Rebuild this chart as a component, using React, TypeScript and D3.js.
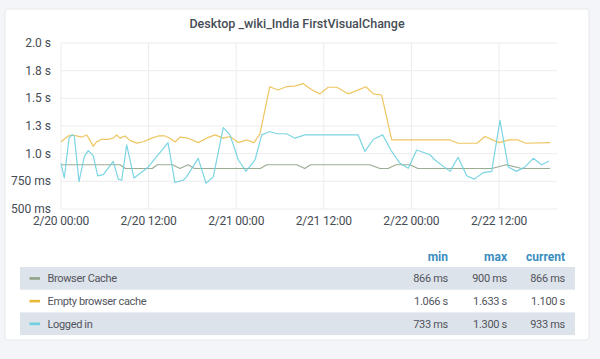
import * as d3 from 'd3';

// hours since 2/20 00:00 and value in seconds
const browserCacheHours = [0, 8.1, 8.8, 12.5, 13.2, 15.3, 16.3, 17.4, 18.3, 27.3, 28.2, 32.3, 33.4, 34.2, 42.3, 43.7, 44.8, 45.9, 47.8, 48.9, 59.0, 61.0, 63.1, 67.0];
const browserCacheValues = [0.9, 0.9, 0.866, 0.866, 0.9, 0.9, 0.866, 0.9, 0.866, 0.866, 0.9, 0.9, 0.866, 0.9, 0.9, 0.866, 0.866, 0.9, 0.9, 0.866, 0.866, 0.9, 0.866, 0.866];

const emptyCacheHours = [0, 1.0, 1.68, 2.15, 2.84, 3.52, 3.97, 4.42, 4.89, 5.58, 6.48, 7.16, 7.63, 8.08, 8.77, 9.45, 10.37, 11.27, 12.42, 13.33, 14.25, 14.93, 15.62, 16.3, 17.44, 18.8, 19.95, 21.1, 22.23, 23.15, 24.3, 25.44, 26.44, 27.26, 28.6, 29.73, 30.88, 32.0, 33.15, 34.3, 35.48, 36.6, 37.77, 38.45, 39.36, 40.5, 41.78, 42.78, 43.93, 45.3, 49.0, 53.3, 54.4, 56.99, 58.08, 60.0, 61.37, 62.6, 63.7, 67.0];
const emptyCacheValues = [1.108, 1.16, 1.169, 1.16, 1.15, 1.169, 1.12, 1.066, 1.108, 1.13, 1.13, 1.14, 1.169, 1.14, 1.16, 1.12, 1.095, 1.108, 1.14, 1.16, 1.16, 1.14, 1.105, 1.15, 1.14, 1.1, 1.14, 1.17, 1.14, 1.155, 1.1, 1.124, 1.1, 1.18, 1.605, 1.575, 1.605, 1.61, 1.633, 1.58, 1.54, 1.6, 1.6, 1.575, 1.54, 1.57, 1.605, 1.54, 1.53, 1.124, 1.124, 1.124, 1.094, 1.094, 1.155, 1.1, 1.124, 1.124, 1.094, 1.1];

const loggedInHours = [0, 0.45, 1.1, 1.47, 1.82, 2.47, 3.19, 3.74, 4.42, 5.03, 5.79, 7.16, 7.85, 8.32, 9.0, 10.0, 10.82, 11.96, 14.66, 15.6, 16.75, 17.2, 18.8, 19.86, 20.86, 22.23, 23.15, 24.3, 25.34, 26.58, 27.5, 28.6, 29.55, 30.9, 32.05, 33.4, 40.7, 41.64, 42.8, 44.07, 45.3, 46.44, 47.58, 48.73, 50.55, 51.23, 53.3, 54.4, 55.58, 56.6, 57.85, 59.0, 60.14, 61.27, 62.4, 63.56, 64.7, 65.85, 66.85];
const loggedInValues = [0.913, 0.78, 1.14, 1.17, 1.16, 0.747, 0.973, 1.027, 0.98, 0.8, 0.81, 0.93, 0.77, 0.76, 1.08, 0.78, 0.82, 0.88, 1.1, 0.74, 0.76, 0.79, 0.958, 0.733, 0.79, 1.235, 1.17, 0.943, 0.84, 0.943, 1.17, 1.2, 1.18, 1.18, 1.14, 1.17, 1.17, 1.02, 1.13, 1.17, 1.02, 0.913, 0.868, 1.033, 0.99, 0.943, 0.84, 0.967, 0.8, 0.77, 0.828, 0.84, 1.3, 0.88, 0.84, 0.88, 0.958, 0.9, 0.933];

const seriesNames = ['Browser Cache', 'Empty browser cache', 'Logged in'];
const seriesColors = ['#8fa486', '#EAB839', '#6ED0E0'];
const lineOpacity = [0.9, 0.8, 0.9];
const statHeaders = ['min', 'max', 'current'];
const statMin = ['866 ms', '1.066 s', '733 ms'];
const statMax = ['900 ms', '1.633 s', '1.300 s'];
const statCurrent = ['866 ms', '1.100 s', '933 ms'];

const yTicks = [0.5, 0.75, 1.0, 1.25, 1.5, 1.75, 2.0];
const yTickLabels = ['500 ms', '750 ms', '1.0 s', '1.3 s', '1.5 s', '1.8 s', '2.0 s'];
const xTickHours = [0, 12, 24, 36, 48, 60];

const W = 600;
const H = 359;
const PLOT = { left: 61, right: 557, top: 43, bottom: 209 };
const START = new Date(2020, 1, 20, 0, 0);
const FONT = 'Roboto, "Noto Sans", sans-serif';

const toDate = (h: number) => new Date(START.getTime() + h * 3600 * 1000);

export default function App() {
  const x = d3.scaleTime()
    .domain([START, toDate(67.95)])
    .range([PLOT.left, PLOT.right]);
  const y = d3.scaleLinear().domain([0.5, 2.0]).range([PLOT.bottom, PLOT.top]);
  const fmt = d3.timeFormat('%-m/%-d %H:%M');

  const series = [
    { hours: browserCacheHours, values: browserCacheValues },
    { hours: emptyCacheHours, values: emptyCacheValues },
    { hours: loggedInHours, values: loggedInValues },
  ];

  const line = d3.line<[number, number]>()
    .x((d) => x(toDate(d[0])))
    .y((d) => y(d[1]));

  const rowTop = 267;
  const rowH = 22.7;
  const statCols = [448, 507, 565];
  const statCells = [statMin, statMax, statCurrent];

  return (
    <svg width={W} height={H} style={{ position: 'absolute', left: 0, top: 0, fontFamily: FONT }}>
      <rect x={0} y={0} width={W} height={H} fill="#f4f5f8" />
      <rect x={5} y={9} width={584} height={331} rx={3} fill="#ffffff" stroke="#e6e8ec" />
      <text x={297} y={27.5} textAnchor="middle" fontSize={12.5} fontWeight={500} fill="#464c54">
        Desktop _wiki_India FirstVisualChange
      </text>

      {/* grid */}
      {yTicks.map((t) => (
        <line key={'gy' + t} x1={PLOT.left} x2={PLOT.right} y1={y(t)} y2={y(t)} stroke="#ececec" />
      ))}
      {xTickHours.map((h) => (
        <line key={'gx' + h} x1={x(toDate(h))} x2={x(toDate(h))} y1={PLOT.top} y2={PLOT.bottom} stroke="#ececec" />
      ))}

      {/* axis labels */}
      {yTicks.map((t, i) => (
        <text key={'ty' + t} x={51} y={y(t) + 4} textAnchor="end" fontSize={12} fill="#464c54">
          {yTickLabels[i]}
        </text>
      ))}
      {xTickHours.map((h) => (
        <text key={'tx' + h} x={x(toDate(h))} y={225} textAnchor="middle" fontSize={12} letterSpacing={-0.2} fill="#464c54">
          {fmt(toDate(h))}
        </text>
      ))}

      {/* series */}
      {series.map((s, i) => (
        <path
          key={'s' + i}
          d={line(s.hours.map((h, j) => [h, s.values[j]] as [number, number])) ?? ''}
          fill="none"
          stroke={seriesColors[i]}
          strokeWidth={1.2}
          strokeOpacity={lineOpacity[i]}
          strokeLinejoin="round"
        />
      ))}

      {/* legend table */}
      {statHeaders.map((hd, c) => (
        <text key={'h' + hd} x={statCols[c]} y={261} textAnchor="end" fontSize={12} fontWeight={700} fill="#3a8dc0">
          {hd}
        </text>
      ))}
      {seriesNames.map((name, i) => {
        const top = rowTop + i * rowH;
        const cy = top + rowH / 2;
        return (
          <g key={'r' + name}>
            {i % 2 === 0 && <rect x={20} y={top} width={555} height={rowH} fill="#dde3ea" />}
            <rect x={29.5} y={cy - 1.2} width={10.5} height={2.6} fill={seriesColors[i]} />
            <text x={47.5} y={cy + 4} fontSize={11} letterSpacing={-0.35} fill="#52545c">{name}</text>
            {statCells.map((col, c) => (
              <text key={'c' + c} x={statCols[c]} y={cy + 4} textAnchor="end" fontSize={11} letterSpacing={-0.3} fill="#52545c">
                {col[i]}
              </text>
            ))}
          </g>
        );
      })}
    </svg>
  );
}
